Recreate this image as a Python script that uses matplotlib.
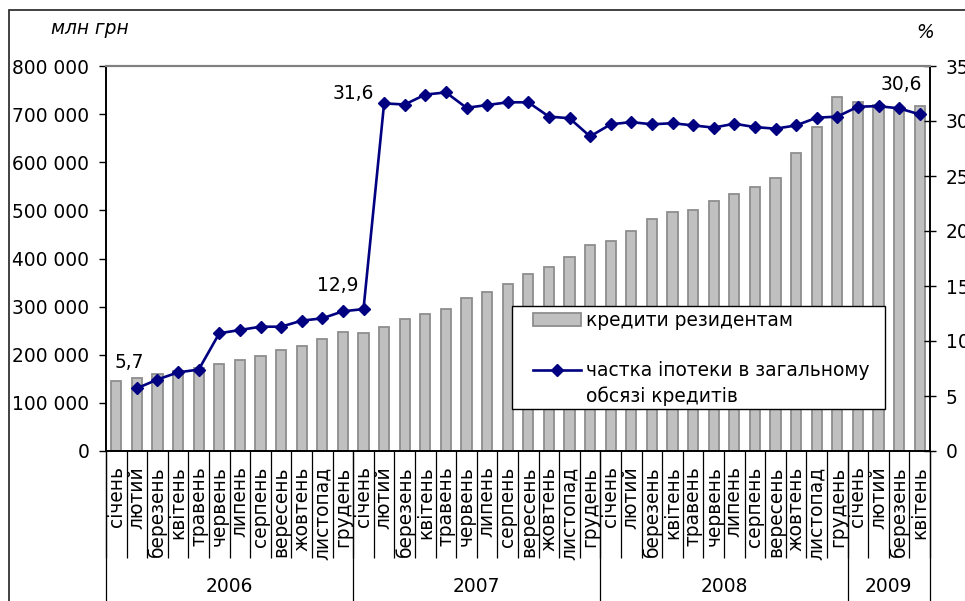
import numpy as np
import matplotlib
matplotlib.use("Agg")
import matplotlib.pyplot as plt
from matplotlib.patches import Rectangle
from matplotlib.lines import Line2D
from matplotlib.ticker import FuncFormatter, FixedLocator
import matplotlib.transforms as mtransforms

plt.rcParams['font.family'] = ['DejaVu Sans']

# --- data -------------------------------------------------------------
months = ["січень", "лютий", "березень", "квітень", "травень", "червень",
          "липень", "серпень", "вересень", "жовтень", "листопад", "грудень"]
month_labels = months * 3 + months[:4]
years = ["2006", "2007", "2008", "2009"]
year_lengths = [12, 12, 12, 4]

# loans to residents, million UAH
credits = [145500, 151000, 159000, 166000, 172000, 181000, 188500, 197500,
           210600, 218000, 233000, 247000,
           246000, 258000, 274500, 284500, 295500, 317000, 331000, 346000,
           368000, 382500, 404000, 428000,
           437000, 457000, 482000, 496500, 500000, 519000, 533000, 549000,
           567000, 620000, 673500, 736000,
           725000, 718000, 712000, 717000]

# mortgage share of total loans, %
share = [np.nan, 5.7, 6.5, 7.15, 7.4, 10.7, 11.0, 11.3, 11.3, 11.85, 12.06, 12.7,
         12.9, 31.6, 31.5, 32.4, 32.6, 31.2, 31.45, 31.7, 31.7, 30.4, 30.25, 28.6,
         29.7, 29.9, 29.7, 29.8, 29.6, 29.4, 29.75, 29.45, 29.3, 29.6, 30.3, 30.4,
         31.3, 31.35, 31.15, 30.6]

labelled_points = {1: "5,7", 12: "12,9", 13: "31,6", 39: "30,6"}
label_offsets = {1: (-8, 26), 12: (-26, 24), 13: (-31, 10), 39: (-18, 30)}

# --- figure -----------------------------------------------------------
W, H = 965, 601
fig = plt.figure(figsize=(W / 100, H / 100), dpi=100)
ax = fig.add_axes([106 / W, 1 - 451 / H, 824 / W, 385 / H])
ax2 = ax.twinx()

FS = 13.4
LINE_C = "#000080"
x = np.arange(len(credits))

ax.bar(x, credits, width=0.5, color="#c0c0c0", edgecolor="#8e8e8e",
       linewidth=1.3, zorder=2)
ax.set_xlim(-0.5, len(credits) - 0.5)
ax.set_ylim(0, 800000)
ax.set_yticks(np.arange(0, 800001, 100000))
ax.yaxis.set_major_formatter(FuncFormatter(lambda v, p: f"{int(v):,}".replace(",", " ")))
ax.tick_params(axis="y", direction="out", length=5, width=1, pad=7, labelsize=FS)

ax2.plot(x, share, color=LINE_C, lw=1.9, marker="D", markersize=6.5,
         markerfacecolor=LINE_C, markeredgecolor=LINE_C, zorder=3)
ax2.set_ylim(0, 35)
ax2.set_yticks(np.arange(0, 36, 5))
ax2.tick_params(axis="y", direction="inout", length=9, width=1, pad=7, labelsize=FS)

for i, txt in labelled_points.items():
    dx, dy = label_offsets[i]
    ax2.annotate(txt, (x[i], share[i]), xytext=(dx, dy), textcoords="offset pixels",
                 ha="center", va="center", fontsize=FS)

# spines
for s in ("left", "bottom", "right"):
    for a in (ax, ax2):
        a.spines[s].set_color("black")
        a.spines[s].set_linewidth(1.2)
for a in (ax, ax2):
    a.spines["top"].set_color("#808080")
    a.spines["top"].set_linewidth(1.5)

# month labels and separators
ax.set_xticks(x)
ax.set_xticklabels(month_labels, rotation=90, fontsize=FS, va="top", ha="center")
ax.tick_params(axis="x", which="major", length=0, pad=11)
ax.xaxis.set_minor_locator(FixedLocator(np.arange(-0.5, len(credits), 1.0)))
ax.tick_params(axis="x", which="minor", direction="out", length=77, width=0.9,
               color="black")

trans = mtransforms.blended_transform_factory(ax.transData, ax.transAxes)
bounds = np.concatenate([[0], np.cumsum(year_lengths)]) - 0.5
for b in bounds:
    ax.plot([b, b], [0, -0.5], transform=trans, color="black", lw=0.9, clip_on=False)
for k, yr in enumerate(years):
    cx = (bounds[k] + bounds[k + 1]) / 2
    ax.text(cx, -(587 - 451) / 385, yr, transform=trans, ha="center", va="center",
            fontsize=FS)

# axis titles
fig.text(90 / W, 1 - 29 / H, "млн грн", ha="center", va="center", fontsize=FS,
         style="italic")
fig.text(925 / W, 1 - 32 / H, "%", ha="center", va="center", fontsize=FS,
         style="italic")

# legend box
def px(xp, yp):
    return ((xp - 106) / 824, (451 - yp) / 385)

lx0, ly0 = px(512, 409)
lx1, ly1 = px(885, 306)
ax2.add_patch(Rectangle((lx0, ly0), lx1 - lx0, ly1 - ly0, transform=ax2.transAxes,
                        facecolor="white", edgecolor="black", lw=1.0, zorder=10,
                        clip_on=False))
px0, py0 = px(533, 326)
px1, py1 = px(581, 313)
ax2.add_patch(Rectangle((px0, py0), px1 - px0, py1 - py0, transform=ax2.transAxes,
                        facecolor="#c0c0c0", edgecolor="#8e8e8e", lw=1.3, zorder=11,
                        clip_on=False))
hx0, hy = px(533, 370)
hx1, _ = px(581, 370)
ax2.add_line(Line2D([hx0, hx1], [hy, hy], transform=ax2.transAxes, color=LINE_C,
                    lw=1.9, zorder=11, clip_on=False))
mx, _ = px(557, 370)
ax2.add_line(Line2D([mx], [hy], transform=ax2.transAxes, color=LINE_C, marker="D",
                    markersize=6.5, zorder=12, clip_on=False))
tx, ty1 = px(586, 320)
ax2.text(tx, ty1, "кредити резидентам", transform=ax2.transAxes, ha="left",
         va="center", fontsize=FS, zorder=12)
_, ty2 = px(586, 371)
ax2.text(tx, ty2, "частка іпотеки в загальному", transform=ax2.transAxes, ha="left",
         va="center", fontsize=FS, zorder=12)
_, ty3 = px(586, 396)
ax2.text(tx, ty3, "обсязі кредитів", transform=ax2.transAxes, ha="left",
         va="center", fontsize=FS, zorder=12)

# outer frame
fig.add_artist(Rectangle((9 / W, -0.1), 1.2, 1 - 10 / H + 0.1,
                         transform=fig.transFigure, fill=False,
                         edgecolor="#333333", lw=1.3))

fig.savefig("out.png", dpi=100)
